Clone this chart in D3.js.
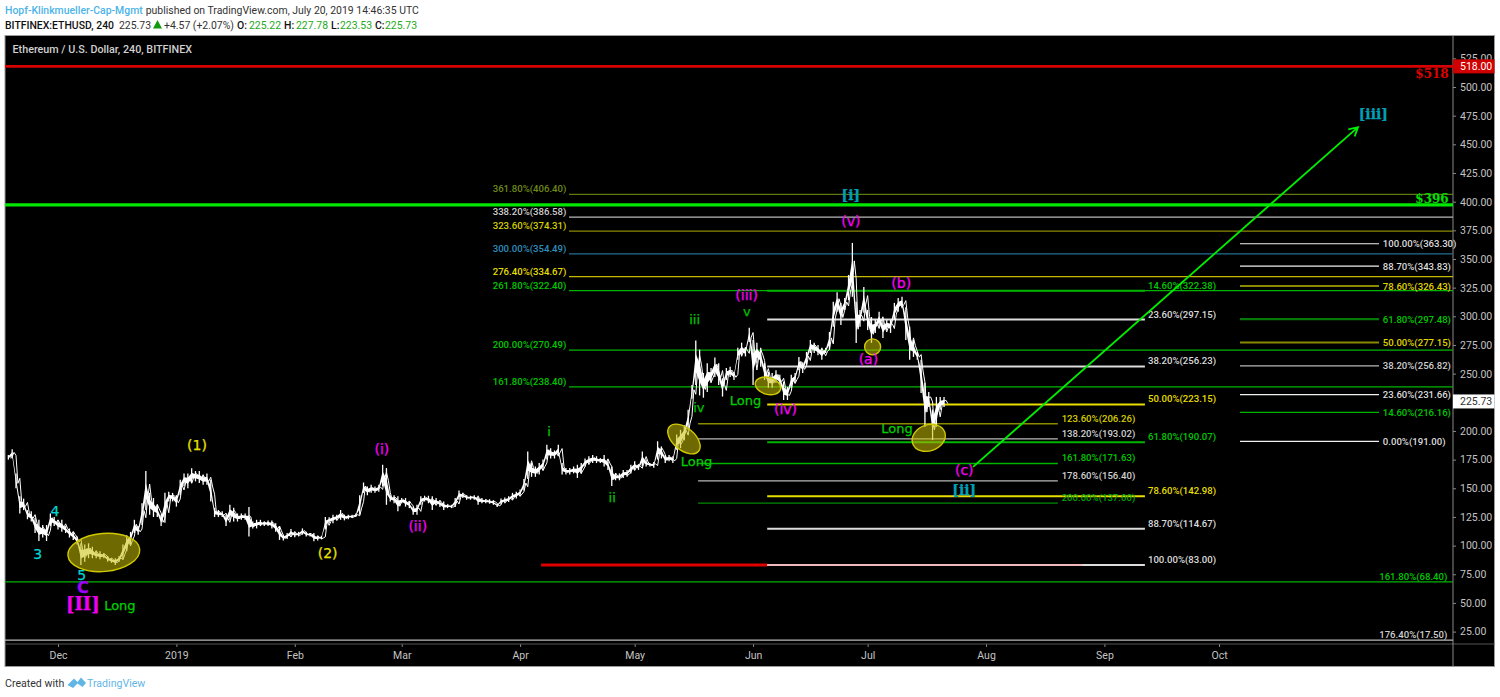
<!DOCTYPE html>
<html><head><meta charset="utf-8">
<style>
html,body{margin:0;padding:0;background:#fff;overflow:hidden}
svg{display:block}
</style>
<script src="https://cdnjs.cloudflare.com/ajax/libs/d3/7.8.5/d3.min.js"></script>
</head><body><svg id="c" width="1500" height="697" font-family="Roboto"></svg>
<script>
// ---------- data ----------
const priceStart = Date.UTC(2018,10,18);
const highs = [179,184,163,143,141,131,130,124,122.5,118,
118,128,125,122.5,122.5,117,115,112,108,102,
101,102,99,95,95,93.5,91,89,89,91,
101,109,112,122.5,117,137,165,146,141.5,135.6,
127,146,147,146,144,157.5,163,163,167.5,165,
165,162,163,157.5,133,131,130,127,135.6,133,
128,128,128,133.6,121,122.5,122.5,121,122,122,
119.6,117,109.5,111,114.4,112,112,115,112,111,
111,108.6,108.6,125,124.8,127,127,131,127,127,
127,128,144,155,151.6,153,151.6,153,170.5,167.6,
144,144,143,141.5,141.5,138.5,134,135.6,143,143.5,
143.5,143,141.5,139.4,138.5,135.6,135.6,141.5,148,146,
144,143.5,144,143.5,141.5,140.5,140.5,139.4,136.5,141,
142,143,146,147,149,158,182,172,169,172,
175,188,185,183,188,172,167.6,167.6,169,170.5,
172,176,178,179,178,176,179,175,169,163,
163,166,166,170.5,173.5,170.5,182,175,172,173,
191,186.5,179,179,178,197,201,205,218.6,240,
279,271,250.6,259,255,264,259,246,255,256,
251.5,272.5,277,273,290,279.4,277,272.5,259.4,251.5,
250.6,253,249,243,238.5,249,250.6,264.6,260,269,
279.4,277,275,272.5,272.5,286.4,312.6,321,311.7,316,
336,364,312.6,305.6,325.6,305.6,299.4,297,304,297,
297,297,311.7,316,317,308,290.8,279.4,269,262,
242,234,218.6,229.7,229.7,229.7];
const lows = [175,176,150,128,131,123,121,111,104,107,
104,117,117,114,112,111,107,105,101,83,
86,89,89,89,88,89,86,85,83,86,
88,95,101,111,109.5,118,131,127,125,125,
117,120,138.5,138.5,134,144,152,150,154.5,156,
154.5,153,153,138.5,125,125,125,117,122.5,121,
121,122.5,122.5,108,115,115,117,117,117,115,
112,105,104.5,105.7,108,107.4,108,109.5,108,108,
103.7,104.5,105.7,114,119.6,119.6,122,122.5,122,123,
124,125,127,146,144,146,146,147,151.6,135.6,
138.5,137,130,137,134,132.7,127,127,135.6,138.5,
137,131,135.6,133.6,131,132.7,132.7,133.6,140,141.5,
140,140,140,135.6,137,137,136.5,135.6,133.6,136,
137,138,140,141,143,148,158,160,160,162,
166,175,176,176,178,162,162,162,163,159,
163,169,170.5,172,172,172,169,166,152,157,
157,159,160,163,166,166,169,169,169,168,
175,176,172,173.5,172,183.6,185,192,201,228,
240,231,229,234,242,247,240,230,244.5,247,
244.5,262,265,265,277.6,240,259,256,244.5,237.6,
237.6,242,240,227,227,237.6,242,253,250.6,257.6,
268,268,266,262,268,270.7,290.8,304,292.5,305.6,
314,317,276.8,290.8,303,288,276.8,285.5,290.8,281,
288,285.5,297,304,307,279.4,262,264.6,262,233,
203.6,221,192,203.6,218.6,221];

const priceTicks = d3.range(25,526,25);
const monthTicks = ["2018-12-01","2019-01-01","2019-02-01","2019-03-01","2019-04-01","2019-05-01","2019-06-01","2019-07-01","2019-08-01","2019-09-01","2019-10-01"];
const monthNames = ["Dec","2019","Feb","Mar","Apr","May","Jun","Jul","Aug","Sep","Oct"];
const lastPrice = 225.73, resistance = 518, support = 396, supportDrawn = 397.2;

// fibonacci sets: [ratio, value, tone]
const fibA = [["361.80%",406.40,"olive"],["338.20%",386.58,"gray"],["323.60%",374.31,"gold"],["300.00%",354.49,"blue"],["276.40%",334.67,"yellow"],["261.80%",322.40,"green"],["200.00%",270.49,"green"],["161.80%",238.40,"green"]];
const fibB = [["123.60%",206.26,"gold"],["138.20%",193.02,"gray"],["161.80%",171.63,"green"],["178.60%",156.40,"gray"],["200.00%",137.00,"dgreen"]];
const fibC = [["14.60%",322.38,"green"],["23.60%",297.15,"lgray"],["38.20%",256.23,"lgray"],["50.00%",223.15,"yellow"],["61.80%",190.07,"green"],["78.60%",142.98,"yellow"],["88.70%",114.67,"lgray"],["100.00%",83.00,"lgray"]];
const fibD = [["100.00%",363.30,"white"],["88.70%",343.83,"white"],["78.60%",326.43,"goldT"],["61.80%",297.48,"dgreenT"],["50.00%",277.15,"goldT"],["38.20%",256.82,"gray"],["23.60%",231.66,"white"],["14.60%",216.16,"green"],["0.00%",191.00,"white"]];
const fibLong = [["161.80%",68.40,"green"],["176.40%",17.50,"gray"]];

// wave labels: text, day from 1 Dec 2018, price
const waves = [["3",-5.3,92.8],["4",-0.8,130.3],["5",6.2,74.5],["(1)",36.4,187.3],["(2)",70.6,93.5],["(i)",84.8,184.1],["(ii)",94.2,117.3],["i",128.6,199.8],["ii",145.1,141.7],["iii",166.7,297.5],["iv",167.8,220.4],["v",180.4,303.8],["(iii)",180.3,318.7],["(iv)",190.5,219],["(v)",207.6,382.9],["(a)",212.2,262.6],["(b)",220.8,328.9],["(c)",237.3,166],["Long",16.2,47.8],["Long",180,226.5],["Long",167.2,173.3],["Long",219.7,202.4],["C",6.5,63.5],["[II]",6.5,49.2],["[i]",207.6,405.8],["[ii]",237.3,148.7],["[iii]",344.4,476.7]];
const toneOf = {"3":"cy","4":"cy","5":"cy","(1)":"ye","(2)":"ye","(i)":"ma","(ii)":"ma","(iii)":"ma","(iv)":"ma","(v)":"ma","(a)":"ma","(b)":"ma","(c)":"ma","i":"gr","ii":"gr","iii":"gr","iv":"gr","v":"gr","Long":"lg","C":"pu","[II]":"mb","[i]":"bl","[ii]":"bl","[iii]":"bl"};
// highlighted zones: day from 1 Dec 2018, price
const zones = [[12,94],[163.9,193],[185.9,239.3],[213.3,273.3],[228,194]];
const zoneShape = [[36,19,-5],[19,11,40],[13,8.5,15],[8,8,0],[17,13,-20]];
// forecast arrow: day from 1 Dec 2018, price
const arrowFrom = [239.6,168.7], arrowTo = [340.4,465];

// ---------- scales ----------
const day0 = Date.UTC(2018,11,1);
const at = n => new Date(day0 + n*864e5);
const x = d3.scaleUtc().domain([new Date(monthTicks[0]),new Date(monthTicks[10])]).range([58,1219]);
const y = d3.scaleLinear().domain([25,500]).range([631.6,87]);

const pane = {l:5,r:1453,t:36,b:644,R:1494.5,B:666.5};
const dayL = x.invert(pane.l), dayR = x.invert(pane.r);
const svg = d3.select("#c");

// ---------- header ----------
const head = svg.append("g").attr("font-size",10.45);
const t1 = head.append("text").attr("x",5).attr("y",13.5);
t1.append("tspan").attr("fill","#4db4e8").attr("font-weight",500).text("Hopf-Klinkmueller-Cap-Mgmt");
t1.append("tspan").attr("fill","#333").attr("dx",3).text("published on TradingView.com, July 20, 2019 14:46:35 UTC");
const hdr2 = [["BITFINEX:ETHUSD, 240",5,"#111",500],["225.73",119,"#333",400],["+4.57 (+2.07%)",164,"#333",400],["O:",237,"#111",500],["225.22",249,"#22aa22",400],["H:",284,"#111",500],["227.78",296,"#22aa22",400],["L:",331,"#111",500],["223.53",340,"#22aa22",400],["C:",375,"#111",500],["225.73",385,"#22aa22",400]];
head.selectAll("text.h2").data(hdr2).join("text").attr("class","h2").attr("x",d=>d[1]).attr("y",28.5).attr("fill",d=>d[2]).attr("font-weight",d=>d[3]).text(d=>d[0]);
head.append("path").attr("d","M153,28.5 L157.5,20 L162,28.5 Z").attr("fill","#109a10");

// ---------- frame ----------
svg.append("rect").attr("x",pane.l).attr("y",35.5).attr("width",pane.R-pane.l).attr("height",pane.B-35.5).attr("fill","#000").attr("stroke","#9a9a9a").attr("stroke-width",1);

// ---------- axes ----------
const yAxis = d3.axisRight(y).tickValues(priceTicks).tickFormat(d3.format(".2f")).tickSize(3).tickPadding(4);
const yG = svg.append("g").attr("transform",`translate(${pane.r},0)`).call(yAxis);
yG.select(".domain").remove();
yG.selectAll("line").attr("stroke","#888");
yG.selectAll("text").attr("fill","#c4c4c4").attr("font-size",10.5).attr("font-family","Roboto");
const xAxis = d3.axisBottom(x).tickValues(monthTicks.map(d=>new Date(d))).tickFormat((d,i)=>monthNames[i]).tickSize(3).tickPadding(5);
const xG = svg.append("g").attr("transform",`translate(0,${pane.b})`).call(xAxis);
xG.select(".domain").remove();
xG.selectAll("line").attr("stroke","#888");
xG.selectAll("text").attr("fill","#c4c4c4").attr("font-size",10.5).attr("font-family","Roboto");
svg.append("line").attr("x1",pane.l).attr("x2",pane.R).attr("y1",pane.b).attr("y2",pane.b).attr("stroke","#555");
svg.append("line").attr("x1",pane.r).attr("x2",pane.r).attr("y1",36).attr("y2",pane.B).attr("stroke","#888");

svg.append("text").attr("x",12.5).attr("y",53).attr("fill","#d0d0d0").attr("font-size",10.75).attr("font-weight",500).text("Ethereum / U.S. Dollar, 240, BITFINEX");

// ---------- levels ----------
const tones = {
 olive:["#5c7a10",1.2,"#6f8a18"], gray:["#b8b8b8",1.3,"#d0d0d0"], gold:["#8c8a00",1.4,"#d8cf00"],
 blue:["#256f94",1.1,"#2f8fbc"], yellow:["#c4b800",1.2,"#e8df00"], green:["#00b400",1.3,"#00c800"],
 dgreen:["#008a00",1.3,"#00a800"], lgray:["#dcdcdc",2,"#dcdcdc"], white:["#f0f0f0",1.2,"#dcdcdc"],
 goldT:["#8c8a00",2.2,"#e0d600"], dgreenT:["#067806",2.2,"#00c800"]
};
const lines = svg.append("g");
function drawFib(rows,from,to,thick){
  rows.forEach(r=>{
    let [c,w] = tones[r[2]];
    if(thick) { w=2; if(r[2]==="yellow") c="#e8df00"; }
    lines.append("line").attr("x1",x(from)).attr("x2",x(to)).attr("y1",y(r[1])).attr("y2",y(r[1])).attr("stroke",c).attr("stroke-width",w);
  });
}
const labels = svg.append("g").attr("font-size",9.6).attr("font-weight",500);
function drawLabels(rows,xp,anchor,dy){
  labels.selectAll(null).data(rows).join("text").attr("x",xp).attr("y",d=>y(d[1])+dy).attr("text-anchor",anchor)
    .attr("fill",d=>tones[d[2]][2]).text(d=>`${d[0]}(${d[1].toFixed(2)})`);
}
drawFib(fibLong,dayL,dayR);
lines.append("line").attr("x1",x(at(126.5))).attr("x2",x(at(185.7))).attr("y1",y(83)).attr("y2",y(83)).attr("stroke","#e00000").attr("stroke-width",3);
drawFib(fibA,at(133.8),dayR);
drawFib(fibB,at(167.6),at(261.8));
drawFib(fibC,at(185.7),at(284.6),true);
lines.append("line").attr("x1",x(at(185.7))).attr("x2",x(at(268.2))).attr("y1",y(83)).attr("y2",y(83)).attr("stroke","#f0b8b8").attr("stroke-width",2);
drawFib(fibD,at(309.5),at(345.9));
drawLabels(fibA,x(at(133.1)),"end",-2);
drawLabels(fibB,x(at(262.8)),"start",-2);
drawLabels(fibC,x(at(285.4)),"start",-2);
drawLabels(fibD,x(at(346.9)),"start",3.5);
drawLabels(fibLong,x(at(363.8)),"end",-2);

lines.append("line").attr("x1",pane.l).attr("x2",pane.r).attr("y1",y(resistance)).attr("y2",y(resistance)).attr("stroke","#d80000").attr("stroke-width",2.6);
lines.append("line").attr("x1",pane.l).attr("x2",pane.r).attr("y1",y(supportDrawn)).attr("y2",y(supportDrawn)).attr("stroke","#00e800").attr("stroke-width",3.4);
svg.append("text").attr("x",x(at(355.4))).attr("y",y(resistance)+12).attr("fill","#e00000").attr("font-family","DejaVu Serif").attr("font-weight",700).attr("font-size",12).text("$"+resistance);
svg.append("text").attr("x",x(at(355.4))).attr("y",y(supportDrawn)-2).attr("fill","#00e000").attr("font-family","DejaVu Serif").attr("font-weight",700).attr("font-size",12).text("$"+support);

// ---------- price ----------
const days = highs.map((h,i)=>new Date(priceStart+i*864e5));
const pg = svg.append("g");
pg.append("path").datum(highs.map((h,i)=>i)).attr("fill","#fff")
  .attr("d",d3.area().x(i=>x(days[i])).y0(i=>y(lows[i]+(highs[i]-lows[i])*.3)).y1(i=>y(highs[i]-(highs[i]-lows[i])*.3)));
pg.selectAll("line").data(highs).join("line")
  .attr("x1",(d,i)=>x(days[i])).attr("x2",(d,i)=>x(days[i]))
  .attr("y1",d=>y(d)).attr("y2",(d,i)=>y(lows[i]))
  .attr("stroke","#fff").attr("stroke-width",1.3);
const pts = [];
highs.forEach((h,i)=>{
  const a = i%2?h:lows[i], b = i%2?lows[i]:h;
  pts.push([new Date(+days[i]+12*36e5),(a+b+a)/3],[new Date(+days[i]+24*36e5),(a+b+b)/3]);
});
pg.append("path").datum(pts).attr("fill","none").attr("stroke","#fff").attr("stroke-width",1)
  .attr("d",d3.line().x(d=>x(d[0])).y(d=>y(d[1])));

// ---------- zones ----------
svg.append("g").selectAll("ellipse").data(zones).join("ellipse")
  .attr("rx",(d,i)=>zoneShape[i][0]).attr("ry",(d,i)=>zoneShape[i][1])
  .attr("transform",(d,i)=>`translate(${x(at(d[0]))},${y(d[1])}) rotate(${zoneShape[i][2]})`)
  .attr("fill","#c8c000").attr("fill-opacity",.55).attr("stroke","#d0c800").attr("stroke-width",1.4);

// ---------- arrow ----------
const ax0=x(at(arrowFrom[0])), ay0=y(arrowFrom[1]), ax1=x(at(arrowTo[0])), ay1=y(arrowTo[1]);
const ang=Math.atan2(ay1-ay0,ax1-ax0);
const barb=s=>[ax1-10*Math.cos(ang+s*.5),ay1-10*Math.sin(ang+s*.5)];
svg.append("path").attr("fill","none").attr("stroke","#00ee00").attr("stroke-width",1.8)
  .attr("d",`M${ax0},${ay0}L${ax1},${ay1}M${barb(1)}L${ax1},${ay1}L${barb(-1)}`);

// ---------- wave labels ----------
const st = {
 cy:["#00d4d4","DejaVu Sans",400,14], ye:["#e8e000","DejaVu Sans",400,14], ma:["#f800f8","DejaVu Sans",400,14],
 gr:["#00c000","DejaVu Sans",400,13], lg:["#00d000","DejaVu Sans",400,13], pu:["#a000ff","DejaVu Sans",700,16],
 mb:["#f000f0","DejaVu Serif",700,18], bl:["#00a0b8","DejaVu Serif",700,14]
};
svg.append("g").selectAll("text").data(waves).join("text")
  .attr("x",d=>x(at(d[1]))).attr("y",d=>y(d[2])).attr("text-anchor","middle").attr("dy",".35em")
  .attr("fill",d=>st[toneOf[d[0]]][0]).attr("stroke",d=>st[toneOf[d[0]]][0]).attr("stroke-width",.25)
  .attr("font-family",d=>st[toneOf[d[0]]][1]).attr("font-weight",d=>st[toneOf[d[0]]][2]).attr("font-size",d=>st[toneOf[d[0]]][3]).text(d=>d[0]);

// ---------- price tags ----------
function tag(v,bg,fg){
  svg.append("rect").attr("x",pane.r).attr("y",y(v)-7).attr("width",pane.R-pane.r).attr("height",14).attr("fill",bg);
  svg.append("text").attr("x",pane.r+7).attr("y",y(v)+3.6).attr("fill",fg).attr("font-size",10.5).text(v.toFixed(2));
}
tag(resistance,"#d00000","#fff");
tag(lastPrice,"#fff","#333");

// ---------- footer ----------
svg.append("text").attr("x",5).attr("y",687).attr("fill","#333").attr("font-size",10.6).text("Created with");
svg.append("path").attr("d","M67.5,685 L74,678.5 L77.5,682 L81,677.5 L86,683 L82.5,687 L77.5,683.5 L73,688 Z").attr("fill","#62b6e6");
svg.append("text").attr("x",87).attr("y",687).attr("fill","#62b6e6").attr("font-size",10.6).text("TradingView");
</script></body></html>
